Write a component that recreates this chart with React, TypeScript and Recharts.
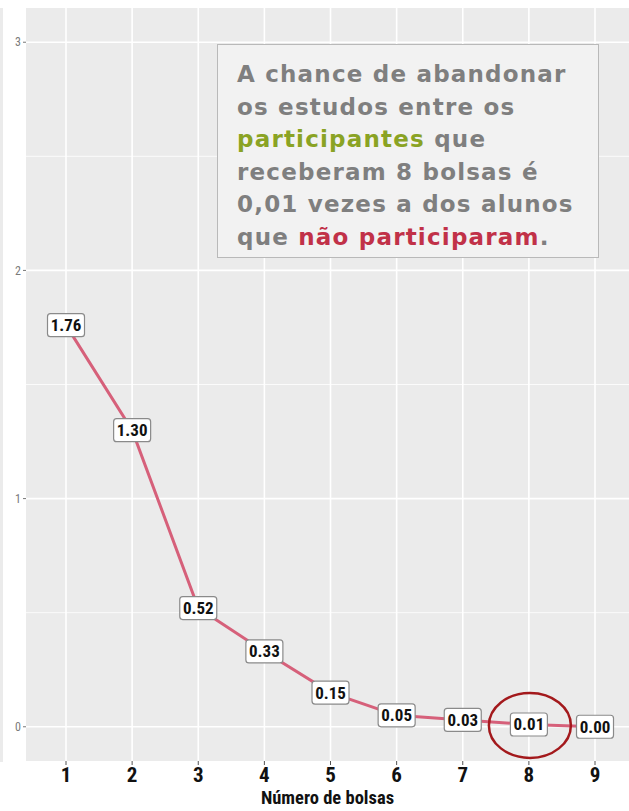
import React from "react";
import {
  CartesianGrid,
  LabelList,
  Line,
  LineChart,
  ReferenceDot,
  XAxis,
  YAxis,
} from "recharts";

const bolsas = [1, 2, 3, 4, 5, 6, 7, 8, 9];
const chance = [1.76, 1.3, 0.52, 0.33, 0.15, 0.05, 0.03, 0.01, 0.0];
const yTicks = [0, 1, 2, 3];
const yMinor = [0.5, 1.5, 2.5];

const data = bolsas.map((b, i) => ({ bolsas: b, chance: chance[i] }));

const narrow = "'Liberation Sans Narrow', 'Arial Narrow', 'Roboto Condensed', sans-serif";

function ValueBox(props: any) {
  const { x, y, value } = props;
  const w = 37;
  const h = 23;
  return (
    <g>
      <rect
        x={x - w / 2}
        y={y - h / 2}
        width={w}
        height={h}
        rx={3}
        fill="#ffffff"
        stroke="#8a8a8a"
        strokeWidth={1.2}
      />
      <text
        x={x}
        y={y + 6}
        textAnchor="middle"
        fontFamily={narrow}
        fontWeight={700}
        fontSize={17}
        fill="#111"
      >
        {Number(value).toFixed(2)}
      </text>
    </g>
  );
}

export default function App() {
  return (
    <div
      style={{
        position: "absolute",
        left: 0,
        top: 0,
        width: 629,
        height: 811,
        background: "#fff",
        overflow: "hidden",
      }}
    >
      <div style={{ position: "absolute", left: 0, top: 8, width: 3, height: 754, background: "#ebebeb" }} />
      <LineChart width={629} height={811} data={data} margin={{ top: 8, right: 0, left: 0, bottom: 0 }}>
        <CartesianGrid
          horizontalValues={yMinor}
          vertical={false}
          fill="#ebebeb"
          stroke="#ffffff"
          strokeWidth={0.8}
        />
        <CartesianGrid
          horizontalValues={yTicks}
          verticalValues={bolsas}
          stroke="#ffffff"
          strokeWidth={1.6}
        />
        <XAxis
          dataKey="bolsas"
          type="number"
          domain={[0.395, 9.514]}
          ticks={bolsas}
          height={50}
          axisLine={false}
          tickSize={4}
          tickLine={{ stroke: "#555", strokeWidth: 1 }}
          tick={{ fontFamily: narrow, fontSize: 21, fontWeight: 700, fill: "#111" }}
          tickMargin={2}
          label={{
            value: "Número de bolsas",
            position: "insideBottom",
            offset: 7,
            style: { fontFamily: narrow, fontSize: 18.5, fontWeight: 700, fill: "#111" },
          }}
        />
        <YAxis
          type="number"
          domain={[-0.15, 3.15]}
          ticks={yTicks}
          width={26}
          axisLine={false}
          tickSize={3}
          tickLine={{ stroke: "#777", strokeWidth: 1 }}
          tick={{ fontFamily: narrow, fontSize: 12, fill: "#7a7a7a" }}
          tickMargin={2}
        />
        <Line
          dataKey="chance"
          stroke="#d6607a"
          strokeWidth={3}
          dot={false}
          isAnimationActive={false}
        >
          <LabelList dataKey="chance" content={<ValueBox />} />
        </Line>
        <ReferenceDot
          x={8}
          y={0.006}
          ifOverflow="visible"
          shape={(p: any) => (
            <ellipse cx={p.cx + 1} cy={p.cy} rx={41} ry={32.5} fill="none" stroke="#a3191c" strokeWidth={2.5} />
          )}
        />
      </LineChart>
      <div
        style={{
          position: "absolute",
          left: 217,
          top: 44,
          width: 382,
          height: 214,
          background: "#f2f2f2",
          border: "1.5px solid #b9b9b9",
          boxSizing: "border-box",
          fontFamily: "'DejaVu Sans', sans-serif",
          fontWeight: 700,
          fontSize: 23,
          lineHeight: "32.5px",
          letterSpacing: 1.2,
          color: "#7f7f7f",
          padding: "13px 0 0 19px",
          whiteSpace: "nowrap",
        }}
      >
        A chance de abandonar
        <br />
        os estudos entre os
        <br />
        <span style={{ color: "#8aa324" }}>participantes</span> que
        <br />
        receberam 8 bolsas é
        <br />
        0,01 vezes a dos alunos
        <br />
        que <span style={{ color: "#c13148" }}>não participaram</span>.
      </div>
    </div>
  );
}
